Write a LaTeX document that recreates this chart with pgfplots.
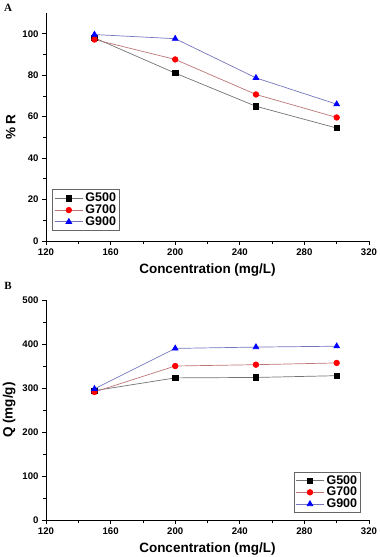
\documentclass[border=0pt]{standalone}
\usepackage{fontspec}
\setmainfont{Liberation Sans}
\newfontfamily\seriffont{Liberation Serif}
\usepackage{pgfplots}
\pgfplotsset{compat=1.18}

\pgfplotsset{
  panel/.style={
    scale only axis, width=323pt,
    xmin=120, xmax=320, xtick={120,160,200,240,280,320}, minor x tick num=1,
    axis lines=left, axis line style={-, black, line width=0.8pt},
    tick align=outside, tick style={black, line width=0.7pt},
    major tick length=4pt, minor tick length=2.5pt,
    tick label style={font=\bfseries\fontsize{9.6}{10}\selectfont},
    /pgf/number format/assume math mode=true,
    label style={font=\bfseries\fontsize{13.5}{14}\selectfont},
    xlabel={Concentration (mg/L)},
    xlabel style={at={(axis description cs:0.5,0)}, anchor=center, yshift=-29.5pt},
    legend style={draw=black!60, line width=0.6pt, inner sep=1.5pt,
      nodes={font=\bfseries\fontsize{12.5}{13}\selectfont}, row sep=-2.5pt},
    legend cell align=left,
    legend image code/.code={\draw[mark repeat=2,mark phase=2]
      plot coordinates {(0cm,0cm)(0.5cm,0cm)(1cm,0cm)};},
    every axis plot/.append style={line width=0.7pt},
  },
  s500/.style={color=black!55, mark=square*, mark size=2.7pt, mark options={fill=black, draw=black}},
  s700/.style={color=red!35!gray!80, mark=*, mark size=2.8pt, mark options={fill=red, draw=red}},
  s900/.style={color=blue!35!gray!80, mark=triangle*, mark size=3.3pt, mark options={fill=blue, draw=blue}},
}

\begin{document}
\begin{tikzpicture}
\useasboundingbox (0,0) rectangle (380pt,-557pt);
\node[font=\seriffont\bfseries\fontsize{11}{11}\selectfont] at (8pt,-8pt) {A};
\node[font=\seriffont\bfseries\fontsize{11}{11}\selectfont] at (8pt,-286pt) {B};

\begin{axis}[panel, at={(46pt,-241pt)}, anchor=south west, height=228pt,
  ymin=0, ymax=110, ytick={0,20,...,100}, minor y tick num=1,
  ylabel={\% R},
  legend style={at={(axis description cs:0.02,0.045)}, anchor=south west}]
\addplot[s500] coordinates {(150,98) (200,81) (250,65) (300,54.5)};
\addplot[s700] coordinates {(150,97.2) (200,87.6) (250,70.7) (300,59.6)};
\addplot[s900] coordinates {(150,99.6) (200,97.6) (250,78.7) (300,66)};
\legend{G500,G700,G900}
\end{axis}

\begin{axis}[panel, at={(46pt,-520pt)}, anchor=south west, height=220pt,
  ymin=0, ymax=500, ytick={0,100,...,500}, minor y tick num=1,
  ylabel={Q (mg/g)},
  legend style={at={(axis description cs:0.975,0.032)}, anchor=south east}]
\addplot[s500] coordinates {(150,294) (200,323) (250,324) (300,328)};
\addplot[s700] coordinates {(150,291) (200,350) (250,353) (300,357)};
\addplot[s900] coordinates {(150,298) (200,390) (250,393) (300,395)};
\legend{G500,G700,G900}
\end{axis}
\end{tikzpicture}
\end{document}
